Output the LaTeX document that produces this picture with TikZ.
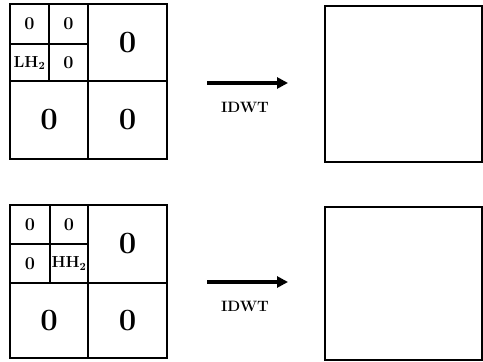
\documentclass[tikz,border=0pt]{standalone}
\usetikzlibrary{arrows.meta}
\begin{document}
\begin{tikzpicture}[x=1pt,y=-1pt,
  outer/.style={draw,line width=2.8pt},
  inner/.style={line width=2.3pt},
  big/.style={font=\fontsize{31}{31}\selectfont\bfseries},
  small/.style={font=\fontsize{18}{18}\selectfont\bfseries},
  sub/.style={font=\fontsize{16}{16}\selectfont\bfseries},
  lbl/.style={font=\fontsize{15}{15}\selectfont\bfseries},
  conv/.style={line width=3.8pt,-{Triangle[length=11pt,width=11pt]}}]
\useasboundingbox (0,0) rectangle (483,362);

% decomposed subband layout, upper row (LH2 kept)
\draw[outer] (10,4) rectangle (167,159);
\draw[inner] (88,4) -- (88,159) (10,81) -- (167,81);
\draw[inner] (49,4) -- (49,81) (10,44) -- (88,44);
\node[small] (u1) at (29.5,24) {0};
\node[small] (u2) at (68.5,24) {0};
\node[sub]   (u3) at (29.5,63) {LH$_{\mathbf 2}$};
\node[small] (u4) at (68.5,63) {0};
\node[big]   (u5) at (127.5,42.5) {0};
\node[big]   (u6) at (49,120) {0};
\node[big]   (u7) at (127.5,120) {0};

% decomposed subband layout, lower row (HH2 kept)
\draw[outer] (10,205) rectangle (167,358);
\draw[inner] (88,205) -- (88,358) (10,283) -- (167,283);
\draw[inner] (50,205) -- (50,283) (10,244) -- (88,244);
\node[small] (l1) at (30,224.5) {0};
\node[small] (l2) at (69,224.5) {0};
\node[small] (l3) at (30,263.5) {0};
\node[sub]   (l4) at (69,263.5) {HH$_{\mathbf 2}$};
\node[big]   (l5) at (127.5,244) {0};
\node[big]   (l6) at (49,320.5) {0};
\node[big]   (l7) at (127.5,320.5) {0};

% reconstructed images
\draw[outer] (325,6) rectangle (482,162);
\draw[outer] (325,207) rectangle (482,360);

% inverse transform arrows
\coordinate (a1) at (207,83);
\coordinate (b1) at (288,83);
\coordinate (a2) at (207,282);
\coordinate (b2) at (288,282);
\draw[conv] (a1) -- (b1);
\draw[conv] (a2) -- (b2);
\node[lbl] (t1) at (245,107) {IDWT};
\node[lbl] (t2) at (245,306) {IDWT};
\end{tikzpicture}
\end{document}
